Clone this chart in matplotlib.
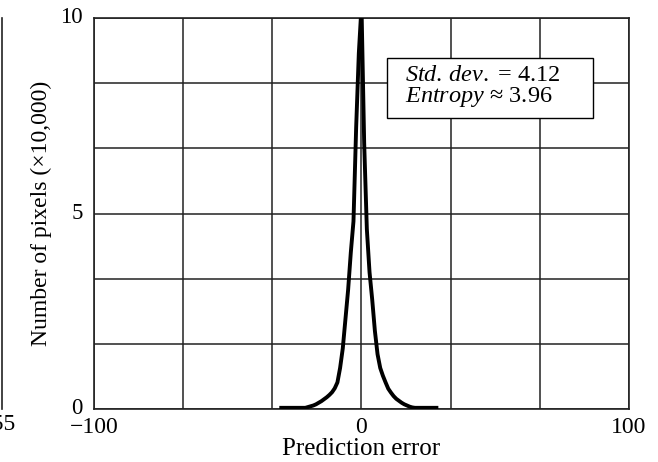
import numpy as np
import matplotlib
matplotlib.use("Agg")
import matplotlib.pyplot as plt
import matplotlib.transforms as mtransforms
from matplotlib.lines import Line2D
from matplotlib.patches import Rectangle

# Histogram of prediction errors (counts in units of 10,000 pixels)
error_left = list(range(-30, 0))
counts_left = [0.03, 0.03, 0.03, 0.03, 0.03, 0.03, 0.03, 0.03, 0.03,   # -30 .. -22
               0.03, 0.05, 0.07, 0.09, 0.12, 0.16, 0.20, 0.25, 0.30,  # -21 .. -13
               0.36, 0.43, 0.53, 0.68, 1.05, 1.55, 2.30, 3.05, 4.00,  # -12 .. -4
               4.80, 7.20, 9.10]                                       # -3 .. -1
error_right = list(range(0, 29))
counts_right = [10.3, 6.8, 4.6, 3.5, 2.8, 2.0, 1.4, 1.05, 0.85, 0.68,   # 0 .. 9
                0.52, 0.42, 0.33, 0.26, 0.21, 0.16, 0.12, 0.09, 0.06,  # 10 .. 18
                0.04, 0.03, 0.03, 0.03, 0.03, 0.03, 0.03, 0.03, 0.03,  # 19 .. 27
                0.03]                                                   # 28

errors = error_left + error_right
counts = counts_left + counts_right

x_ticks = [-100, 0, 100]
y_ticks = [0, 5, 10]
x_tick_labels = ["\u2212100", "0", "100"]
y_tick_labels = ["0", "5", "10"]
stats_text = ["$\\it{Std.\\,dev.}$ = 4.12", "$\\it{Entropy}$ \u2248 3.96"]

serif = ["Liberation Serif", "DejaVu Serif"]
plt.rcParams["font.family"] = serif
plt.rcParams["mathtext.fontset"] = "custom"
plt.rcParams["mathtext.it"] = "Liberation Serif:italic"
plt.rcParams["mathtext.rm"] = "Liberation Serif"

fig = plt.figure(figsize=(6.58, 4.62), dpi=100)
ax = fig.add_axes([94 / 658, 1 - 409 / 462, 535 / 658, 391 / 462])

ax.set_xlim(-100, 100)
ax.set_ylim(0, 10)

# 6 x 6 grid of cells
ax.set_xticks(np.linspace(-100, 100, 7), minor=True)
ax.set_yticks(np.linspace(0, 10, 7), minor=True)
ax.set_xticks(x_ticks)
ax.set_yticks(y_ticks)
ax.set_xticklabels(x_tick_labels)
ax.set_yticklabels(y_tick_labels)
ax.grid(True, which="both", color="#222222", linewidth=1.1)
ax.set_axisbelow(True)
ax.tick_params(which="both", length=0)
ax.tick_params(axis="y", pad=8, labelsize=16.5)
ax.tick_params(axis="x", pad=6, labelsize=17)
for sp in ax.spines.values():
    sp.set_linewidth(1.2)
    sp.set_color("#222222")

# nudge the y tick labels slightly upward
lift = mtransforms.ScaledTranslation(0, 3 / 100, fig.dpi_scale_trans)
for lbl in ax.get_yticklabels():
    lbl.set_transform(lbl.get_transform() + lift)

ax.plot(errors, counts, color="black", linewidth=2.8, solid_joinstyle="miter",
        zorder=3)

ax.set_xlabel("Prediction error", fontsize=18, labelpad=0)
ax.set_ylabel("Number of pixels (\u00d710,000)", fontsize=17)
ax.yaxis.set_label_coords(-0.078, 0.5)

# statistics box
ax.add_patch(Rectangle((0.5477, 0.7442), 0.385, 0.1535, transform=ax.transAxes,
                       facecolor="white", edgecolor="black", linewidth=1.0,
                       zorder=5))
ax.text(0.5813, 0.854, stats_text[0], transform=ax.transAxes, ha="left",
        va="center", fontsize=17.5, zorder=6)
ax.text(0.5813, 0.798, stats_text[1], transform=ax.transAxes, ha="left",
        va="center", fontsize=17.5, zorder=6)

# Edge of the neighbouring panel on the left
fig.add_artist(Line2D([1.5 / 658, 1.5 / 658], [1 - 409 / 462, 1 - 18 / 462],
                      transform=fig.transFigure, color="#222222", linewidth=1.2))
fig.text(15 / 658, 1 - 424 / 462, "255", ha="right", va="center", fontsize=17)

fig.savefig("out.png", dpi=100)
